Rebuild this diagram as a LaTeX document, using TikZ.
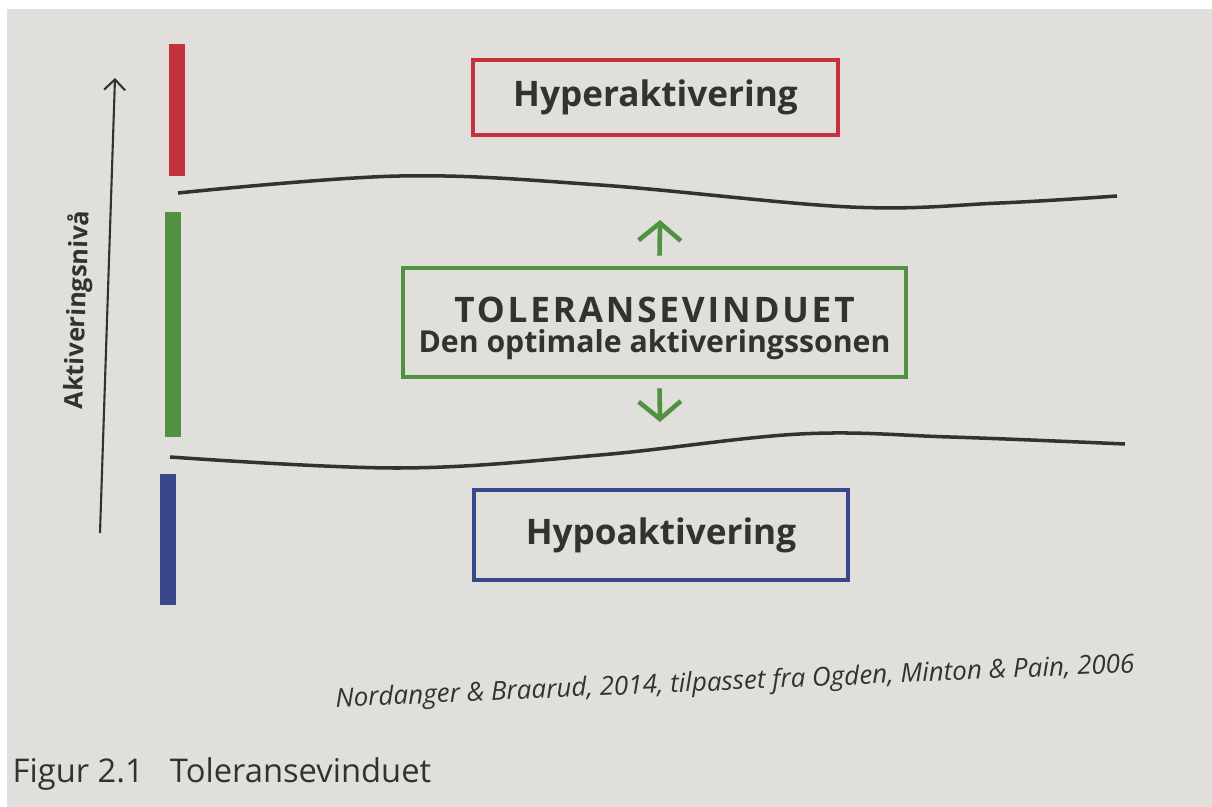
\documentclass[tikz,border=0pt]{standalone}
\usepackage{fontspec}
\setmainfont{Open Sans}
\usepackage{xcolor}
\usetikzlibrary{arrows.meta,positioning}

\definecolor{paper}{RGB}{224,223,220}
\definecolor{hyperred}{RGB}{196,50,62}
\definecolor{tolgreen}{RGB}{80,146,66}
\definecolor{hypoblue}{RGB}{56,72,136}
\definecolor{ink}{RGB}{52,50,48}

\tikzset{
  zonebox/.style={draw,line width=1.3pt,text=ink,inner sep=0pt,align=center,
    font=\bfseries\fontsize{10}{12}\selectfont},
  zonebar/.style={draw=none,minimum width=0.15cm,inner sep=0pt},
  limit/.style={draw=ink,line width=1pt},
  escape/.style={draw=tolgreen,line width=1.3pt},
}

\begin{document}
\begin{tikzpicture}[>={Straight Barb[length=5pt,width=12pt]},x=0.01cm,y=-0.01cm]
\useasboundingbox (0,0) rectangle (1212,807);
\fill[white] (0,0) rectangle (1212,807);
\fill[paper] (7,9) rectangle (1212,807);

% activation axis
\coordinate (axbot) at (100,533);
\coordinate (axtop) at (115,78);
\draw[ink,line width=0.6pt,-{Straight Barb[length=3pt,width=6pt]}] (axbot) -- (axtop);
\node[rotate=88,text=ink,font=\bfseries\fontsize{7.2}{8}\selectfont] (axlabel) at (78,310) {Aktiveringsnivå};

% coloured bars
\node[zonebar,fill=hyperred,minimum height=1.31cm] (barhyper) at (177,110) {};
\node[zonebar,fill=tolgreen,minimum height=2.25cm] (bartol) at (173,324.5) {};
\node[zonebar,fill=hypoblue,minimum height=1.31cm] (barhypo) at (168,539.5) {};

% window limits
\draw[limit] plot[smooth,tension=0.6] coordinates
  {(178,193) (400,176) (600,185) (850,207) (1000,203) (1117,196)};
\draw[limit] plot[smooth,tension=0.6] coordinates
  {(170,457) (400,468) (600,455) (800,434) (950,437) (1125,444)};

% zones
\node[zonebox,draw=hyperred,minimum width=3.65cm,minimum height=0.75cm] (hyper) at (655.5,97.5) {Hyperaktivering};
\node[zonebox,draw=tolgreen,minimum width=5.03cm,minimum height=1.09cm] (tol) at (654.5,322.5)
  {\rule{0pt}{10.5pt}{\addfontfeature{LetterSpace=8}TOLERANSEVINDUET}\\[-3.5pt]{\fontsize{8.6}{11}\selectfont Den optimale aktiveringssonen}};
\node[zonebox,draw=hypoblue,minimum width=3.74cm,minimum height=0.9cm] (hypo) at (661,535) {Hypoaktivering};

% shifts out of the window
\coordinate (upend) at (660,220);
\coordinate (downend) at (660,422);
\draw[escape,->] ([xshift=0.05cm,yshift=0.1cm]tol.north) -- (upend);
\draw[escape,->] ([xshift=0.05cm,yshift=-0.09cm]tol.south) -- (downend);

% source and caption
\node[rotate=2.5,text=ink,font=\itshape\fontsize{7.4}{8}\selectfont] (source) at (735,683)
  {Nordanger \& Braarud, 2014, tilpasset fra Ogden, Minton \& Pain, 2006};
\node[anchor=base west,text=ink,font=\fontsize{9.3}{11}\selectfont,inner sep=0pt] (figcap) at (12,783)
  {Figur 2.1\hspace{0.8em}Toleransevinduet};
\end{tikzpicture}
\end{document}
